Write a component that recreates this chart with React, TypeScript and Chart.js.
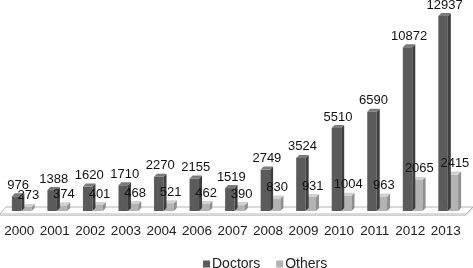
import React, { useEffect, useRef } from "react";
import { Chart, registerables } from "chart.js";

Chart.register(...registerables);

const years = ["2000", "2001", "2002", "2003", "2004", "2006", "2007", "2008", "2009", "2010", "2011", "2012", "2013"];
const doctors = [976, 1388, 1620, 1710, 2270, 2155, 1519, 2749, 3524, 5510, 6590, 10872, 12937];
const others = [273, 374, 401, 468, 521, 462, 390, 830, 931, 1004, 963, 2065, 2415];
const seriesNames = ["Doctors", "Others"];
const yMax = 14000;

const FRONT = ["#5b5b5b", "#b3b3b3"];
const SIDE = ["#3f3f3f", "#8f8f8f"];
const TOP = ["#7a7a7a", "#d0d0d0"];
const DEPTH = 3;
const FONT = "'Liberation Sans', Arial, Helvetica, sans-serif";

const floorPlugin = {
  id: "floor3d",
  beforeDatasetsDraw(chart: any) {
    const { ctx, chartArea } = chart;
    const b = chartArea.bottom;
    const l = chartArea.left - 4;
    const r = chartArea.right;
    ctx.save();
    ctx.beginPath();
    ctx.moveTo(l, b + 3);
    ctx.lineTo(r, b + 3);
    ctx.lineTo(r + 7, b - 4);
    ctx.lineTo(l + 6, b - 4);
    ctx.closePath();
    ctx.fillStyle = "#ffffff";
    ctx.fill();
    ctx.strokeStyle = "#b4b4b4";
    ctx.lineWidth = 1;
    ctx.stroke();
    ctx.beginPath();
    ctx.moveTo(l, b + 4.5);
    ctx.lineTo(r, b + 4.5);
    ctx.lineTo(r + 7, b - 2.5);
    ctx.strokeStyle = "#cfcfcf";
    ctx.stroke();
    ctx.restore();
  },
};

const bar3dPlugin = {
  id: "bar3d",
  afterDatasetDraw(chart: any, args: any) {
    const { ctx } = chart;
    const i = args.index;
    const D = DEPTH;
    ctx.save();
    args.meta.data.forEach((el: any) => {
      const { x, y, base, width } = el.getProps(["x", "y", "base", "width"], true);
      const left = x - width / 2;
      const right = x + width / 2;
      const top = Math.min(y, base);
      const bottom = base;
      ctx.beginPath();
      ctx.moveTo(right, top);
      ctx.lineTo(right + D, top - D);
      ctx.lineTo(right + D, bottom - D);
      ctx.lineTo(right, bottom);
      ctx.closePath();
      ctx.fillStyle = SIDE[i];
      ctx.fill();
      ctx.beginPath();
      ctx.moveTo(left, top);
      ctx.lineTo(left + D, top - D);
      ctx.lineTo(right + D, top - D);
      ctx.lineTo(right, top);
      ctx.closePath();
      ctx.fillStyle = TOP[i];
      ctx.fill();
    });
    ctx.restore();
  },
};

const valueLabelPlugin = {
  id: "valueLabels",
  afterDatasetsDraw(chart: any) {
    const { ctx } = chart;
    ctx.save();
    ctx.font = `13px ${FONT}`;
    ctx.fillStyle = "#111111";
    ctx.textAlign = "center";
    ctx.textBaseline = "middle";
    chart.data.datasets.forEach((ds: any, di: number) => {
      const meta = chart.getDatasetMeta(di);
      meta.data.forEach((el: any, j: number) => {
        const { x, y } = el.getProps(["x", "y"], true);
        ctx.fillText(String(ds.data[j]), x + 1.5, y - 11);
      });
    });
    ctx.restore();
  },
};

const legendPlugin = {
  id: "bottomLegend",
  afterDraw(chart: any) {
    const { ctx } = chart;
    ctx.save();
    ctx.font = `14px ${FONT}`;
    ctx.textBaseline = "middle";
    ctx.textAlign = "left";
    let x = 203;
    const yc = 264;
    chart.data.datasets.forEach((ds: any) => {
      ctx.fillStyle = ds.backgroundColor;
      ctx.fillRect(x, yc - 3.5, 7, 7);
      ctx.fillStyle = "#222222";
      ctx.fillText(ds.label, x + 9, yc);
      x += 9 + ctx.measureText(ds.label).width + 16;
    });
    ctx.restore();
  },
};

export default function App() {
  const ref = useRef<HTMLCanvasElement | null>(null);
  useEffect(() => {
    if (!ref.current) return;
    const chart = new Chart(ref.current, {
      type: "bar",
      data: {
        labels: years,
        datasets: [
          { label: seriesNames[0], data: doctors, backgroundColor: FRONT[0], borderWidth: 0 },
          { label: seriesNames[1], data: others, backgroundColor: FRONT[1], borderWidth: 0 },
        ],
      },
      options: {
        responsive: false,
        animation: false,
        layout: { padding: { left: 4, right: 7, top: 0, bottom: 17 } },
        datasets: { bar: { categoryPercentage: 0.58, barPercentage: 0.92 } },
        plugins: { legend: { display: false }, tooltip: { enabled: false } },
        scales: {
          x: {
            grid: { display: false, drawTicks: false },
            border: { display: false },
            ticks: {
              padding: 0,
              labelOffset: -2.5,
              color: "#222222",
              font: { family: FONT, size: 13.5, lineHeight: 40 / 13.5 },
              autoSkip: false,
              maxRotation: 0,
            },
          },
          y: { display: false, min: 0, max: yMax },
        },
      },
      plugins: [floorPlugin, bar3dPlugin, valueLabelPlugin, legendPlugin],
    } as any);
    return () => chart.destroy();
  }, []);
  return (
    <div style={{ position: "fixed", left: 0, top: 0, width: 473, height: 268, background: "#fff" }}>
      <canvas ref={ref} width={473} height={268} style={{ display: "block" }} />
    </div>
  );
}
